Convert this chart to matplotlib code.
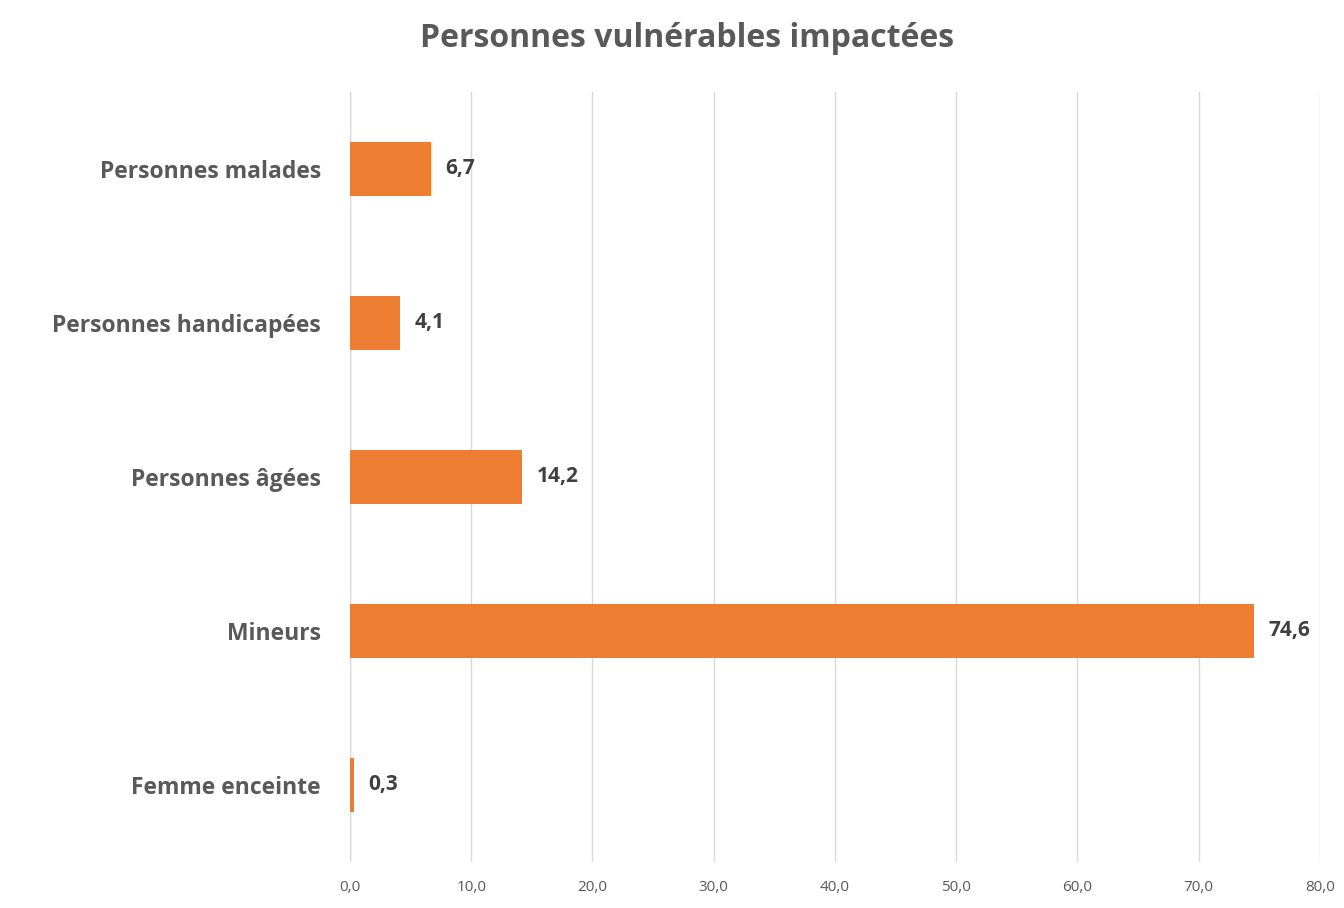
import numpy as np
import matplotlib
matplotlib.use("Agg")
import matplotlib.pyplot as plt

plt.rcParams['font.family'] = ['Open Sans', 'DejaVu Sans']

# data, bottom to top
categories = ['Femme enceinte', 'Mineurs', 'Personnes âgées',
              'Personnes handicapées', 'Personnes malades']
values = [0.3, 74.6, 14.2, 4.1, 6.7]
xticks = [0, 10, 20, 30, 40, 50, 60, 70, 80]

orange = '#ED7D31'
grey = '#595959'

fig = plt.figure(figsize=(13.44, 9.08), dpi=100)
ax = fig.add_axes([0.2604, 0.0507, 0.7216, 0.8483])

y = np.arange(len(categories))
ax.barh(y, values, height=0.35, color=orange, zorder=3)

for yi, v in zip(y, values):
    ax.text(v + 1.2, yi, ('%.1f' % v).replace('.', ','), va='center', ha='left',
            fontsize=15, fontweight='bold', color='#404040')

ax.set_xlim(0, 80)
ax.set_ylim(-0.5, 4.5)
ax.set_xticks(xticks)
ax.set_xticklabels([('%.1f' % t).replace('.', ',') for t in xticks],
                   fontsize=11, color=grey)
ax.set_yticks(y)
ax.set_yticklabels(categories, fontsize=16.5, fontweight='bold', color=grey)
ax.tick_params(axis='both', length=0)
ax.tick_params(axis='y', pad=21)
ax.tick_params(axis='x', pad=13)
ax.grid(axis='x', color='#D9D9D9', linewidth=1, zorder=0)
for s in ax.spines.values():
    s.set_visible(False)
ax.axvline(0, color='#D9D9D9', linewidth=1, zorder=2)

fig.text(0.511, 0.958, 'Personnes vulnérables impactées', ha='center', va='center',
         fontsize=23, fontweight='bold', color=grey)

fig.savefig('out.png', dpi=100, facecolor='white')
